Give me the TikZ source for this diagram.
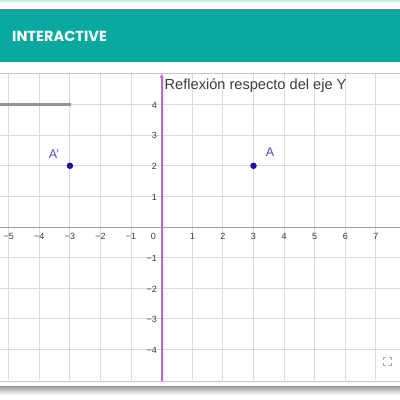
\documentclass[tikz,border=0pt]{standalone}
\usepackage{fontspec}
\setmainfont{Liberation Sans}
\newfontfamily\bannerfont{Poppins}
\usetikzlibrary{arrows.meta,calc}
\definecolor{teal1}{RGB}{10,168,158}
\definecolor{tealtop}{RGB}{200,238,232}
\definecolor{gridc}{RGB}{218,218,218}
\definecolor{magline}{RGB}{208,92,222}
\definecolor{ptblue}{RGB}{20,20,170}
\definecolor{lblblue}{RGB}{80,80,190}
\definecolor{ticktxt}{RGB}{60,60,60}
\tikzset{
  gridline/.style={draw=gridc, line width=0.9pt},
  ticklab/.style={font=\fontsize{9}{10}\selectfont, text=ticktxt, inner sep=0pt},
  ptdot/.style={circle, fill=ptblue, inner sep=0pt, minimum size=6.5pt},
  ptlabel/.style={font=\fontsize{12.5}{13}\selectfont, text=lblblue, inner sep=0pt},
  iconc/.style={draw=gray!70, line width=0.9pt}
}
\begin{document}
\begin{tikzpicture}[x=1pt,y=-1pt]
\useasboundingbox (0,0) rectangle (400,400);
\fill[white] (0,0) rectangle (400,400);
% top thin line and banner
\fill[tealtop] (0,0) rectangle (400,2);
\fill[teal1] (0,9) rectangle (400,62);
\node[anchor=west, text=white, font=\bannerfont\bfseries\fontsize{14.6}{16}\selectfont, inner sep=0pt] (banner) at (12,36) {INTERACTIVE};
% grid
\foreach \k in {-5,...,7} {
  \draw[gridline] ({161.7+\k*30.6},73) -- ({161.7+\k*30.6},380);
}
\foreach \k in {-4,...,4} {
  \draw[gridline] (0,{227+\k*30.6}) -- (400,{227+\k*30.6});
}
\draw[draw=gray!45, line width=0.9pt] (0,73) -- (400,73);
\draw[draw=gray!45, line width=0.9pt] (0,381) -- (400,381);
% shadow at bottom
\shade[top color=gray!80, bottom color=white] (0,386) rectangle (400,395);
% x-axis
\draw[draw=gray!75, line width=0.9pt] (0,227) -- (400,227);
% tick labels x
\foreach \k in {-5,-4,-3,-2,-1} {
  \node[ticklab] (xl\k) at ({161.7+\k*30.6},236.5) {−\the\numexpr-\k\relax};
}
\foreach \k in {1,...,7} {
  \node[ticklab] (xl\k) at ({161.7+\k*30.6},236.5) {\k};
}
\node[ticklab] (zero) at (153.5,236.5) {0};
% tick labels y
\foreach \k in {1,...,4} {
  \node[ticklab, anchor=east] (yl\k) at (157,{227-\k*30.6+0.5}) {\k};
}
\foreach \k in {1,...,4} {
  \node[ticklab, anchor=east] (ym\k) at (157,{227+\k*30.6+1}) {−\k};
}
% slider line
\coordinate (s1) at (0,104.5);
\coordinate (s2) at (71,104.5);
\draw[draw=gray!85, line width=2.2pt] (s1) -- (s2);
% magenta line (y axis)
\coordinate (mb) at (161.7,381);
\coordinate (mt) at (161.7,74);
\draw[draw=magline, line width=1.8pt, -{Stealth[length=4pt,width=4pt]}] (mb) -- (mt);
% title
\node[anchor=west, inner sep=0pt, text=ticktxt, font=\fontsize{14.6}{16}\selectfont] (title) at (164.5,86) {Reflexión respecto del eje Y};
% points
\node[ptdot] (A) at ({161.7+3*30.6},{227-2*30.6}) {};
\node[ptdot] (Ap) at ({161.7-3*30.6},{227-2*30.6}) {};
\node[ptlabel] (Alab) at (270,152) {A};
\node[ptlabel] (Aplab) at (54,154) {A'};
% fullscreen icon
\coordinate (ic) at (387,361);
\draw[iconc] ($(ic)+(-4,-1.5)$) -- ($(ic)+(-4,-4)$) -- ($(ic)+(-1.5,-4)$);
\draw[iconc] ($(ic)+(4,-1.5)$) -- ($(ic)+(4,-4)$) -- ($(ic)+(1.5,-4)$);
\draw[iconc] ($(ic)+(-4,1.5)$) -- ($(ic)+(-4,4)$) -- ($(ic)+(-1.5,4)$);
\draw[iconc] ($(ic)+(4,1.5)$) -- ($(ic)+(4,4)$) -- ($(ic)+(1.5,4)$);
\end{tikzpicture}
\end{document}
